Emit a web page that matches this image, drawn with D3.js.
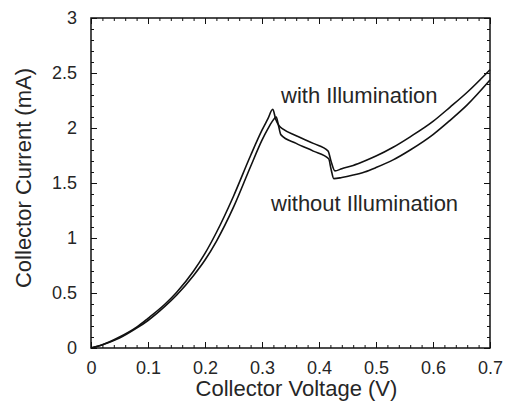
<!DOCTYPE html>
<html>
<head>
<meta charset="utf-8">
<script src="https://cdn.jsdelivr.net/npm/d3@7"></script>
<style>
  html, body { margin: 0; padding: 0; background: #fff; }
  svg { display: block; }
  text { font-family: "Liberation Sans", Arial, sans-serif; fill: #262626; }
</style>
</head>
<body>
<svg id="chart" width="506" height="405"></svg>
<script>
// ---- data ----
const withV = [0, 0.02, 0.05, 0.08, 0.1, 0.13, 0.15, 0.18, 0.2, 0.22, 0.25, 0.28, 0.30, 0.31, 0.319,
  0.324, 0.33, 0.337, 0.36, 0.39, 0.416, 0.421, 0.428, 0.44, 0.46, 0.48, 0.5, 0.53, 0.56, 0.6, 0.63, 0.66, 0.7];
const withI = [0, 0.03, 0.10, 0.19, 0.27, 0.40, 0.505, 0.70, 0.86, 1.05, 1.38, 1.75, 1.98, 2.08, 2.17,
  2.08, 2.02, 1.99, 1.93, 1.86, 1.79, 1.70, 1.61, 1.63, 1.66, 1.70, 1.745, 1.825, 1.92, 2.06, 2.19, 2.325, 2.53];

const withoutV = [0, 0.02, 0.05, 0.08, 0.1, 0.13, 0.15, 0.18, 0.2, 0.22, 0.25, 0.28, 0.30, 0.31, 0.318, 0.325,
  0.329, 0.333, 0.36, 0.39, 0.417, 0.421, 0.426, 0.44, 0.46, 0.48, 0.5, 0.53, 0.56, 0.6, 0.63, 0.66, 0.7];
const withoutI = [0, 0.03, 0.09, 0.18, 0.25, 0.38, 0.48, 0.66, 0.80, 0.97, 1.28, 1.65, 1.89, 1.99, 2.06, 2.10,
  2.02, 1.94, 1.86, 1.79, 1.72, 1.63, 1.54, 1.55, 1.572, 1.60, 1.64, 1.71, 1.80, 1.94, 2.07, 2.21, 2.436];

const xTicks = [0, 0.1, 0.2, 0.3, 0.4, 0.5, 0.6, 0.7];
const yTicks = [0, 0.5, 1, 1.5, 2, 2.5, 3];
const labels = ["with Illumination", "without Illumination"];

// ---- layout ----
const svg = d3.select("#chart");
const plotL = 91, plotR = 490, plotT = 18, plotB = 348;

const x = d3.scaleLinear().domain([0, 0.7]).range([plotL, plotR]);
const y = d3.scaleLinear().domain([0, 3]).range([plotB, plotT]);

const xMinor = d3.range(0, 0.7001, 0.02).map(v => +v.toFixed(2));
const yMinor = d3.range(0, 3.001, 0.1).map(v => +v.toFixed(1));

// minor ticks (all four sides, inward)
function styleAxis(g) {
  g.select(".domain").remove();
  g.selectAll("line").attr("stroke", "#111").attr("stroke-width", 1);
}
svg.append("g").attr("transform", `translate(0,${plotB})`)
  .call(d3.axisBottom(x).tickValues(xMinor).tickSize(-3).tickFormat("")).call(styleAxis);
svg.append("g").attr("transform", `translate(0,${plotT})`)
  .call(d3.axisTop(x).tickValues(xMinor).tickSize(-3).tickFormat("")).call(styleAxis);
svg.append("g").attr("transform", `translate(${plotL},0)`)
  .call(d3.axisLeft(y).tickValues(yMinor).tickSize(-3).tickFormat("")).call(styleAxis);
svg.append("g").attr("transform", `translate(${plotR},0)`)
  .call(d3.axisRight(y).tickValues(yMinor).tickSize(-3).tickFormat("")).call(styleAxis);

// major ticks + labels
const xAxis = svg.append("g").attr("transform", `translate(0,${plotB})`)
  .call(d3.axisBottom(x).tickValues(xTicks).tickSize(-6).tickPadding(13).tickFormat(d => d === 0 ? "0" : d3.format(".1f")(d)))
  .call(styleAxis);
xAxis.selectAll("text").attr("font-size", 18).attr("fill", "#262626");

svg.append("g").attr("transform", `translate(0,${plotT})`)
  .call(d3.axisTop(x).tickValues(xTicks).tickSize(-6).tickFormat("")).call(styleAxis);

const yAxis = svg.append("g").attr("transform", `translate(${plotL},0)`)
  .call(d3.axisLeft(y).tickValues(yTicks).tickSize(-6).tickPadding(14).tickFormat(d3.format("")))
  .call(styleAxis);
yAxis.selectAll("text").attr("font-size", 18).attr("fill", "#262626");

svg.append("g").attr("transform", `translate(${plotR},0)`)
  .call(d3.axisRight(y).tickValues(yTicks).tickSize(-6).tickFormat("")).call(styleAxis);

// frame
svg.append("rect")
  .attr("x", plotL).attr("y", plotT)
  .attr("width", plotR - plotL).attr("height", plotB - plotT)
  .attr("fill", "none").attr("stroke", "#111").attr("stroke-width", 1.5);

// curves
const line = d3.line()
  .x(d => x(d[0]))
  .y(d => y(d[1]))
  .curve(d3.curveMonotoneX);

const series = [
  withV.map((v, i) => [v, withI[i]]),
  withoutV.map((v, i) => [v, withoutI[i]])
];

svg.append("g").selectAll("path")
  .data(series)
  .join("path")
  .attr("d", line)
  .attr("fill", "none")
  .attr("stroke", "#111")
  .attr("stroke-width", 1.6)
  .attr("stroke-linejoin", "round");

// annotations
svg.append("text").attr("x", 281).attr("y", 103).attr("font-size", 22).text(labels[0]);
svg.append("text").attr("x", 271).attr("y", 211).attr("font-size", 22).text(labels[1]);

// axis titles
svg.append("text")
  .attr("x", (plotL + plotR) / 2 + 6).attr("y", 396)
  .attr("text-anchor", "middle").attr("font-size", 22)
  .text("Collector Voltage (V)");

svg.append("text")
  .attr("transform", "translate(31,178) rotate(-90)")
  .attr("text-anchor", "middle").attr("font-size", 22)
  .text("Collector Current (mA)");
</script>
</body>
</html>
